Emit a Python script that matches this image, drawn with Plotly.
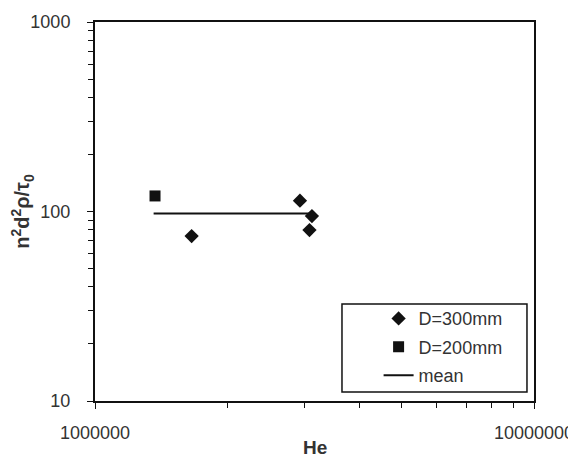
import plotly.graph_objects as go

# Data
he_300 = [1.66e6, 2.93e6, 3.12e6, 3.08e6]
val_300 = [74.2, 114.0, 94.6, 79.8]
he_200 = [1.37e6]
val_200 = [120.8]
he_mean = [1.36e6, 3.09e6]
val_mean = [97.5, 97.5]

font_family = "Liberation Sans, Arial, sans-serif"

fig = go.Figure()
fig.add_trace(go.Scatter(x=he_300, y=val_300, mode="markers", name="D=300mm",
                         legendgroup="a",
                         marker=dict(symbol="diamond", size=11, color="#111111")))
fig.add_trace(go.Scatter(x=he_200, y=val_200, mode="markers", name="D=200mm",
                         legendgroup="b",
                         marker=dict(symbol="square", size=11, color="#111111")))
fig.add_trace(go.Scatter(x=he_mean, y=val_mean, mode="lines", name="mean",
                         legendgroup="c",
                         line=dict(color="#111111", width=2)))

axis_common = dict(
    type="log", dtick=1, showgrid=False, zeroline=False, automargin=False,
    showline=True, linecolor="#111111", linewidth=2, mirror=True,
    ticks="outside", ticklen=6, tickwidth=1, tickcolor="#111111",
    tickfont=dict(family=font_family, size=18, color="#333333"),
    minor=dict(ticks="outside", ticklen=5, tickwidth=1, tickcolor="#111111", showgrid=False),
    tickformat="d",
)

fig.update_xaxes(**axis_common, range=[6, 7], ticklabelstandoff=8)
fig.update_yaxes(**axis_common, range=[1, 3],
                 ticklabelstandoff=13,
                 title=dict(text="<b>n<sup>2</sup>d<sup>2</sup>ρ/τ<sub>0</sub></b>",
                            font=dict(family=font_family, size=20, color="#333333"),
                            standoff=9))

# The page body has an 8px default margin, so the figure is 8px smaller
# than the window on each axis and the margins are shifted accordingly.
fig.update_layout(
    width=568, height=460,
    margin=dict(l=87, r=42, t=14, b=67),
    paper_bgcolor="white", plot_bgcolor="white",
    showlegend=True,
    legend=dict(x=0.646, y=0.266, xanchor="left", yanchor="top",
                bgcolor="rgba(0,0,0,0)", borderwidth=0,
                traceorder="grouped", tracegroupgap=2,
                font=dict(family=font_family, size=18, color="#333333")),
    shapes=[dict(type="rect", xref="paper", yref="paper",
                 x0=0.5626, x1=0.984, y0=0.0237, y1=0.256,
                 line=dict(color="#111111", width=1.5), fillcolor="white", layer="below")],
    annotations=[dict(text="<b>He</b>", xref="paper", yref="paper", x=0.5, y=0,
                      xanchor="center", yanchor="middle", yshift=-46, showarrow=False,
                      font=dict(family=font_family, size=19, color="#333333"))],
)

fig.write_html("out.html")
